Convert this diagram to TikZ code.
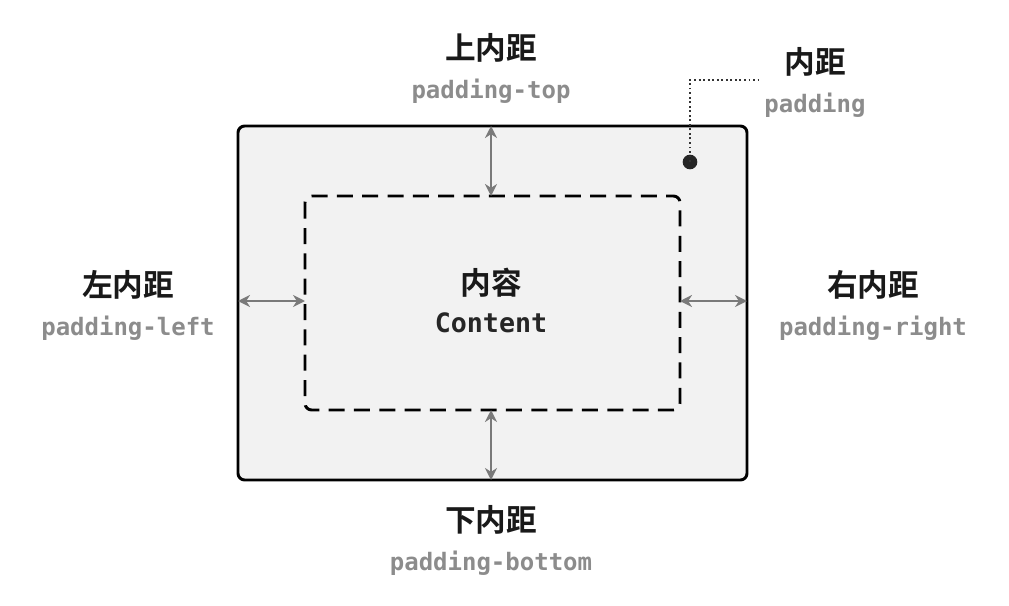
\documentclass[tikz,border=0pt]{standalone}
\usepackage{fontspec}
\newfontfamily\cjk{Noto Sans CJK SC}[BoldFont={* Bold}]
\setmonofont{DejaVu Sans Mono}
\usetikzlibrary{positioning,arrows.meta}
\definecolor{boxfill}{HTML}{F2F2F2}
\definecolor{subgray}{HTML}{8C8C8C}
\definecolor{arrgray}{HTML}{7A7A7A}
\begin{document}
\begin{tikzpicture}[x=0.75pt,y=-0.75pt]

  % Styles
  \tikzset{
    title/.style={font=\cjk\bfseries\fontsize{23}{26}\selectfont,text=black!90,inner sep=0pt},
    sub/.style={font=\ttfamily\bfseries\fontsize{18}{20}\selectfont,text=subgray,inner sep=0pt},
    gap/.style={draw=arrgray,line width=2.2pt,{Stealth[length=9pt,width=9pt]}-{Stealth[length=9pt,width=9pt]}}
  }

  \useasboundingbox (0,0) rectangle (1009,606);

  % Boxes
  \draw[line width=2.2pt,rounded corners=5pt,fill=boxfill] (238,126) rectangle (747,480);
  \draw[line width=2.2pt,dashed,dash pattern=on 12pt off 7pt,rounded corners=5pt] (305,196) rectangle (680,410);
  \coordinate (in-n) at (491,196);  \coordinate (out-n) at (491,126);
  \coordinate (in-s) at (491,410);  \coordinate (out-s) at (491,480);
  \coordinate (in-w) at (305,301);  \coordinate (out-w) at (238,301);
  \coordinate (in-e) at (680,301);  \coordinate (out-e) at (747,301);

  % Gaps
  \draw[gap] (out-n) -- (in-n);
  \draw[gap] (in-s) -- (out-s);
  \draw[gap] (out-w) -- (in-w);
  \draw[gap] (in-e) -- (out-e);

  % Content
  \node[title] (content) at (491,283) {内容};
  \node[font=\ttfamily\bfseries\fontsize{20}{22}\selectfont,text=black!85,inner sep=0pt,below=11pt of content] (content-en) {Content};

  % Labels
  \node[title] (top) at (491,48) {上内距};
  \node[sub,below=12pt of top] (top-en) {padding-top};
  \node[title] (bottom) at (491,520) {下内距};
  \node[sub,below=12pt of bottom] (bottom-en) {padding-bottom};
  \node[title] (left) at (128,285) {左内距};
  \node[sub,below=12pt of left] (left-en) {padding-left};
  \node[title] (right) at (873,285) {右内距};
  \node[sub,below=12pt of right] (right-en) {padding-right};
  \node[title] (pad) at (815,62) {内距};
  \node[sub,below=12pt of pad] (pad-en) {padding};

  % Pointer
  \fill[black!85] (690,162) circle (5.5pt);
  \coordinate (dot) at (690,162);
  \coordinate (hook) at (760,80);
  \draw[line width=1.4pt,dotted,black!80] (dot) |- (hook);

\end{tikzpicture}
\end{document}
